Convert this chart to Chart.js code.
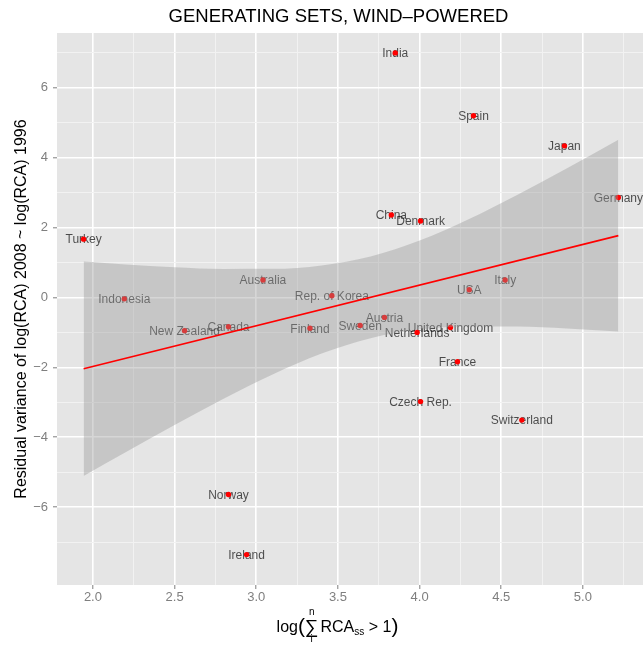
<!DOCTYPE html>
<html>
<head>
<meta charset="utf-8">
<script src="https://cdn.jsdelivr.net/npm/chart.js@4.4.1/dist/chart.umd.min.js"></script>
<style>
html,body{margin:0;padding:0;background:#ffffff;}
#wrap{width:643px;height:646px;}
canvas{display:block;}
</style>
</head>
<body>
<div id="wrap"><canvas id="c" width="643" height="646"></canvas></div>
<script>
// ---- data ----
const countries = ["India","Spain","Japan","Germany","China","Denmark","Turkey","Australia","Indonesia","Rep. of Korea","New Zealand","Canada","Finland","Sweden","Austria","Netherlands","United Kingdom","USA","Italy","France","Czech Rep.","Switzerland","Norway","Ireland"];
const xValues = [3.851,4.330,4.887,5.217,3.827,4.006,1.943,3.041,2.192,3.463,2.561,2.830,3.329,3.636,3.785,3.985,4.189,4.304,4.524,4.232,4.006,4.626,2.830,2.941];
const yValues = [7.00,5.20,4.34,2.86,2.36,2.19,1.67,0.50,-0.04,0.05,-0.95,-0.84,-0.88,-0.80,-0.57,-1.00,-0.86,0.22,0.50,-1.84,-2.98,-3.51,-5.64,-7.36];

// regression line and its confidence band
const fitX = [1.943, 5.217];
const fitY = [-2.04, 1.77];
const bandX = [1.943,2.2,2.5,2.8,3.1,3.4,3.7,4.0,4.3,4.6,4.9,5.217];
const bandUpper = [1.03,0.947,0.867,0.817,0.820,0.918,1.176,1.63,2.239,2.94,3.692,4.516];
const bandLower = [-5.109,-4.429,-3.651,-2.901,-2.204,-1.604,-1.164,-0.92,-0.831,-0.834,-0.888,-0.974];

// axes
const xMajorTicks = [2.0,2.5,3.0,3.5,4.0,4.5,5.0];
const xTickLabels = ["2.0","2.5","3.0","3.5","4.0","4.5","5.0"];
const xMinorTicks = [2.25,2.75,3.25,3.75,4.25,4.75,5.25];
const yMajorTicks = [-6,-4,-2,0,2,4,6];
const yTickLabels = ["\u22126","\u22124","\u22122","0","2","4","6"];
const yMinorTicks = [-7,-5,-3,-1,1,3,5,7];

const titleText = "GENERATING SETS, WIND\u2013POWERED";
const yTitleText = "Residual variance of log(RCA) 2008 ~ log(RCA) 1996";

// ---- chart ----
const FONT = '"Liberation Sans", Arial, Helvetica, sans-serif';
Chart.defaults.font.family = FONT;

const xAllTicks = xMajorTicks.concat(xMinorTicks).sort((a,b)=>a-b);
const yAllTicks = yMajorTicks.concat(yMinorTicks).sort((a,b)=>a-b);

const panelBg = {
  id: 'panelBg',
  beforeDraw(chart) {
    const {ctx, chartArea: a} = chart;
    ctx.save();
    ctx.fillStyle = '#E5E5E5';
    ctx.fillRect(a.left, a.top, a.right - a.left, a.bottom - a.top);
    ctx.restore();
  }
};

const pointLabels = {
  id: 'pointLabels',
  beforeDatasetDraw(chart, args) {
    if (args.index !== 3) return;
    const {ctx} = chart;
    const xs = chart.scales.x, ys = chart.scales.y;
    ctx.save();
    ctx.font = '12px ' + FONT;
    ctx.fillStyle = 'rgba(0,0,0,0.68)';
    ctx.textAlign = 'center';
    ctx.textBaseline = 'middle';
    countries.forEach((name, i) => {
      ctx.fillText(name, xs.getPixelForValue(xValues[i]), ys.getPixelForValue(yValues[i]) + 1);
    });
    ctx.restore();
  }
};

const titles = {
  id: 'titles',
  afterDraw(chart) {
    const {ctx} = chart;
    ctx.save();
    // main title
    ctx.fillStyle = '#000';
    ctx.textAlign = 'center';
    ctx.textBaseline = 'middle';
    ctx.font = '18.5px ' + FONT;
    ctx.fillText(titleText, 338.5, 17);
    // x axis title: log( sum_i^n RCA_ss > 1 )
    const base = 632;
    const parts = [
      {t: 'log', f: 16, dy: 0},
      {t: '(', f: 21, dy: 1},
      {t: '\u2211', f: 19, dy: 1, over: 'n', under: 'i'},
      {t: 'RCA', f: 16, dy: 0, gap: 2},
      {t: 'ss', f: 10, dy: 3},
      {t: ' > 1', f: 16, dy: 0},
      {t: ')', f: 21, dy: 1}
    ];
    ctx.textAlign = 'left';
    ctx.textBaseline = 'alphabetic';
    let total = 0;
    parts.forEach(p => { ctx.font = p.f + 'px ' + FONT; p.w = ctx.measureText(p.t).width + (p.gap || 0); total += p.w; });
    let x = 337.5 - total / 2;
    parts.forEach(p => {
      ctx.font = p.f + 'px ' + FONT;
      ctx.fillText(p.t, x + (p.gap ? p.gap : 0), base + p.dy);
      if (p.over) {
        ctx.font = '10px ' + FONT;
        ctx.textAlign = 'center';
        ctx.fillText(p.over, x + p.w / 2, base - 17);
        ctx.fillText(p.under, x + p.w / 2, base + 10);
        ctx.textAlign = 'left';
      }
      x += p.w;
    });
    ctx.restore();
  }
};

const isMajorX = v => xMajorTicks.indexOf(v) >= 0;
const isMajorY = v => yMajorTicks.indexOf(v) >= 0;

new Chart(document.getElementById('c'), {
  type: 'scatter',
  data: {
    datasets: [
      {
        type: 'line',
        label: 'fit',
        data: fitX.map((x, i) => ({x, y: fitY[i]})),
        borderColor: '#FF0000',
        borderWidth: 1.6,
        pointRadius: 0,
        fill: false,
        order: 0
      },
      {
        type: 'line',
        label: 'upper',
        data: bandX.map((x, i) => ({x, y: bandUpper[i]})),
        borderColor: 'rgba(0,0,0,0)',
        borderWidth: 1,
        backgroundColor: 'rgba(153,153,153,0.4)',
        pointRadius: 0,
        cubicInterpolationMode: 'monotone',
        fill: '+1',
        order: 1
      },
      {
        type: 'line',
        label: 'lower',
        data: bandX.map((x, i) => ({x, y: bandLower[i]})),
        borderColor: 'rgba(0,0,0,0)',
        borderWidth: 1,
        pointRadius: 0,
        cubicInterpolationMode: 'monotone',
        fill: false,
        order: 1
      },
      {
        type: 'scatter',
        label: 'countries',
        data: xValues.map((x, i) => ({x, y: yValues[i]})),
        backgroundColor: '#FF0000',
        borderColor: '#FF0000',
        borderWidth: 0,
        pointRadius: 2.7,
        order: 2
      }
    ]
  },
  options: {
    responsive: false,
    animation: false,
    devicePixelRatio: 1,
    layout: {autoPadding: false, padding: {top: 33, left: 0, right: 0, bottom: 0}},
    plugins: {
      legend: {display: false},
      title: {display: false},
      tooltip: {enabled: false}
    },
    scales: {
      x: {
        type: 'linear',
        min: 1.78,
        max: 5.368,
        afterBuildTicks: s => { s.ticks = xAllTicks.map(v => ({value: v})); },
        afterFit: s => { s.height = 61; s.paddingLeft = 0; s.paddingRight = 0; },
        border: {display: false},
        grid: {
          color: c => (c.tick && isMajorX(c.tick.value)) ? '#FFFFFF' : '#F2F2F2',
          lineWidth: c => (c.tick && isMajorX(c.tick.value)) ? 1.6 : 1,
          tickColor: c => (c.tick && isMajorX(c.tick.value)) ? '#7F7F7F' : 'rgba(0,0,0,0)',
          tickWidth: 1,
          tickLength: 4
        },
        ticks: {
          autoSkip: false,
          maxRotation: 0,
          padding: 1,
          color: '#7F7F7F',
          font: {size: 13},
          callback: v => { const i = xMajorTicks.indexOf(v); return i >= 0 ? xTickLabels[i] : ''; }
        }
      },
      y: {
        type: 'linear',
        min: -8.23,
        max: 7.57,
        afterBuildTicks: s => { s.ticks = yAllTicks.map(v => ({value: v})); },
        afterFit: s => { s.width = 57; s.paddingTop = 0; s.paddingBottom = 0; },
        border: {display: false},
        grid: {
          color: c => (c.tick && isMajorY(c.tick.value)) ? '#FFFFFF' : '#F2F2F2',
          lineWidth: c => (c.tick && isMajorY(c.tick.value)) ? 1.6 : 1,
          tickColor: c => (c.tick && isMajorY(c.tick.value)) ? '#7F7F7F' : 'rgba(0,0,0,0)',
          tickWidth: 1,
          tickLength: 4
        },
        ticks: {
          autoSkip: false,
          padding: 5,
          color: '#7F7F7F',
          font: {size: 13},
          callback: v => { const i = yMajorTicks.indexOf(v); return i >= 0 ? yTickLabels[i] : ''; }
        },
        title: {
          display: true,
          text: yTitleText,
          color: '#000000',
          font: {size: 16},
          padding: {top: 12, bottom: 0}
        }
      }
    }
  },
  plugins: [panelBg, pointLabels, titles]
});
</script>
</body>
</html>
